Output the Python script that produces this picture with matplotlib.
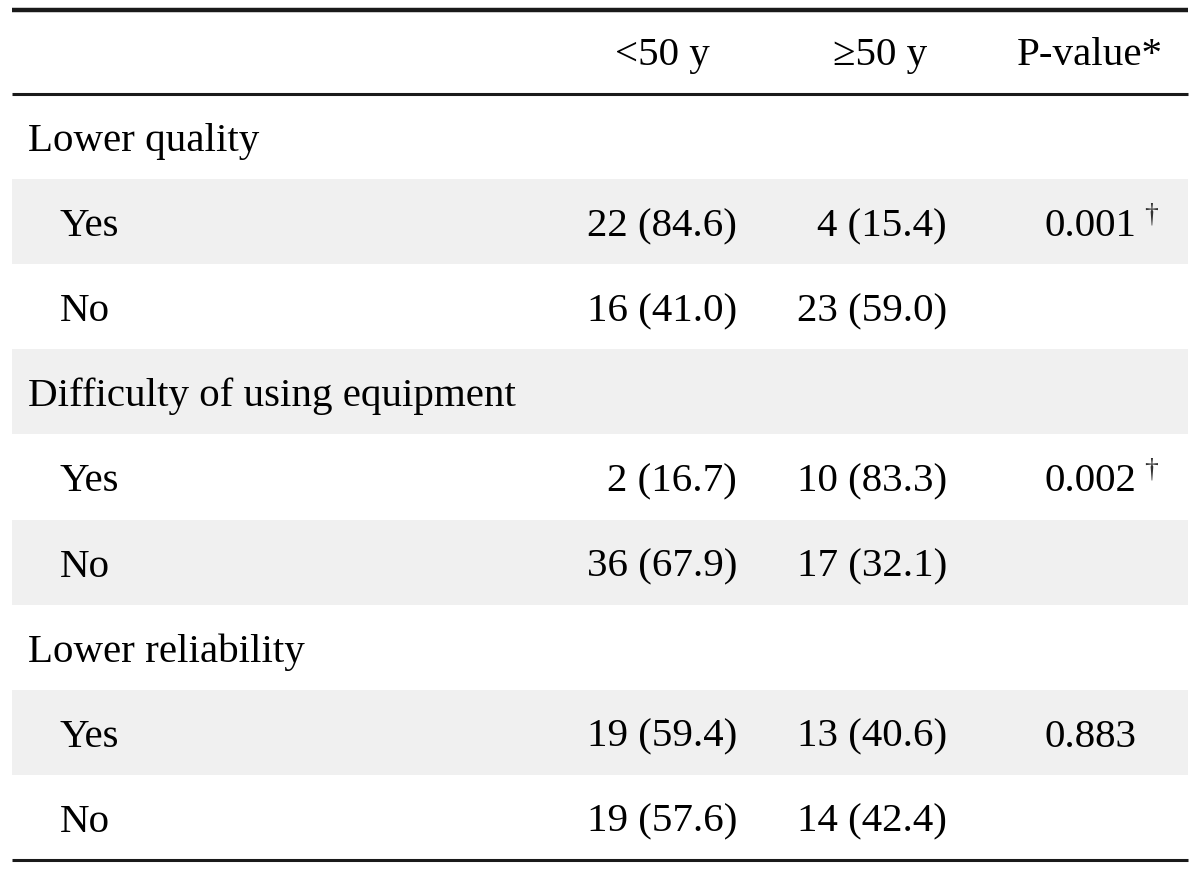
import matplotlib
matplotlib.use('agg')
from matplotlib import pyplot as plt

plt.rcParams['font.family'] = ['Liberation Serif', 'DejaVu Serif']

headers = ['<50 y', '\u226550 y', 'P-value*']
groups = ['Lower quality', 'Difficulty of using equipment', 'Lower reliability']
answers = ['Yes', 'No']
young = [['22 (84.6)', '16 (41.0)'], ['2 (16.7)', '36 (67.9)'], ['19 (59.4)', '19 (57.6)']]
old = [['4 (15.4)', '23 (59.0)'], ['10 (83.3)', '17 (32.1)'], ['13 (40.6)', '14 (42.4)']]
pvals = ['0.001', '0.002', '0.883']
dagger = [True, True, False]

W, H = 1200, 871
fig = plt.figure(figsize=(12, 8.71), dpi=100)
ax = fig.add_axes([0, 0, 1, 1])
ax.set_xlim(0, W)
ax.set_ylim(H, 0)
ax.axis('off')

x0, x1 = 12, 1188
fs = 29.5
row_h = 85.1
top = 94
base = 14.5  # baseline offset from row centre

ax.plot([x0, x1], [10, 10], color='#1a1a1a', lw=3.2, solid_capstyle='butt')
ax.plot([x0, x1], [94, 94], color='#1a1a1a', lw=2.2, solid_capstyle='butt')
ax.plot([x0, x1], [860, 860], color='#1a1a1a', lw=2.2, solid_capstyle='butt')

ax.text(662, 65, headers[0], fontsize=fs, ha='center', va='baseline')
ax.text(880, 65, headers[1], fontsize=fs, ha='center', va='baseline')
ax.text(1090, 65, headers[2], fontsize=fs, ha='center', va='baseline')

r = 0
for g in range(len(groups)):
    rows = [(groups[g], 28, None)] + [(answers[a], 60, a) for a in range(len(answers))]
    for label, lx, a in rows:
        y_top = top + row_h * r
        yc = y_top + row_h / 2 + base
        if r % 2 == 1:
            ax.add_patch(plt.Rectangle((x0, y_top), x1 - x0, row_h, color='#f0f0f0', lw=0, zorder=0))
        ax.text(lx, yc, label, fontsize=fs, ha='left', va='baseline')
        if a is not None:
            ax.text(737, yc, young[g][a], fontsize=fs, ha='right', va='baseline')
            ax.text(947, yc, old[g][a], fontsize=fs, ha='right', va='baseline')
            if a == 0:
                ax.text(1090, yc, pvals[g], fontsize=fs, ha='center', va='baseline')
                if dagger[g]:
                    ax.text(1144, yc - 15, '\u2020', fontsize=20, ha='left', va='baseline',
                            color='#333333')
        r += 1

fig.savefig('out.png', dpi=100)
